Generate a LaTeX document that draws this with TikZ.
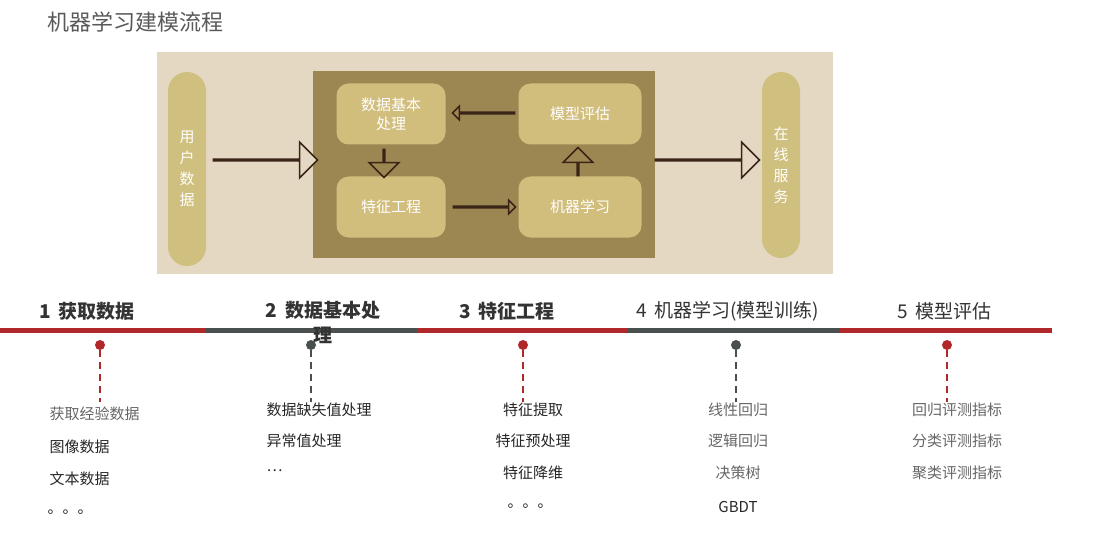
\documentclass[tikz,border=0pt]{standalone}
\usepackage{fontspec}
\setmainfont{Noto Sans CJK SC}
\usetikzlibrary{shapes.arrows}
\definecolor{paper}{HTML}{E4D8C3}
\definecolor{olive}{HTML}{9C8752}
\definecolor{pill}{HTML}{CFC07F}
\definecolor{tile}{HTML}{D1BD7C}
\definecolor{ink}{HTML}{3A2418}
\definecolor{tlred}{HTML}{B0282A}
\definecolor{tlgrey}{HTML}{4A5050}
\tikzset{
  tilebox/.style={fill=tile,rounded corners=12pt,minimum width=109pt,minimum height=61pt,
    text=white,font=\fontsize{15}{19}\selectfont,align=center},
  pillbox/.style={fill=pill,rounded corners=19pt,minimum width=38pt,text=white,
    font=\fontsize{15}{21}\selectfont,align=center},
  hollow/.style={single arrow,draw=ink,line width=1.6pt,fill=paper,inner sep=0pt,
    single arrow head extend=#1},
  hollow/.default=16pt,
  stage/.style={font=\fontsize{19}{22}\selectfont,text=black!80,anchor=west},
  item/.style={font=\fontsize{15}{18}\selectfont,text=black!85},
  greyitem/.style={item,text=black!60},
  dot/.style={circle,fill=#1,inner sep=0pt,minimum size=10pt},
}
\begin{document}
\begin{tikzpicture}[x=1pt,y=-1pt]
  \useasboundingbox (0,0) rectangle (1107,540);
  \node[anchor=west,font=\fontsize{22}{26}\selectfont,text=black!65] (title) at (44,22) {机器学习建模流程};
  % picture panel
  \fill[paper] (157,52) rectangle (833,274);
  \fill[olive] (313,71) rectangle (655,258);
  \node[pillbox,minimum height=194pt] (user) at (187,169) {用\\户\\数\\据};
  \node[pillbox,minimum height=186pt] (online) at (781,165) {在\\线\\服\\务};
  \node[tilebox] (prep) at (391,114) {数据基本\\处理};
  \node[tilebox,minimum width=123pt] (eval) at (580,114) {模型评估};
  \node[tilebox] (feat) at (391,207) {特征工程};
  \node[tilebox,minimum width=123pt] (learn) at (580,207) {机器学习};
  \node[hollow=17pt,minimum width=20pt,minimum height=104pt] (inarrow) at (265,160) {};
  \node[hollow=17pt,minimum width=20pt,minimum height=104pt] (outarrow) at (707,160) {};
  \node[hollow=6pt,fill=olive,minimum width=9pt,minimum height=62pt,shape border rotate=180] (backarrow) at (484,113) {};
  \node[hollow=6pt,fill=olive,minimum width=9pt,minimum height=62pt] (fwdarrow) at (484,207) {};
  \node[hollow=14pt,fill=olive,minimum width=14pt,minimum height=28pt,shape border rotate=270] (downarrow) at (384,163) {};
  \node[hollow=14pt,fill=olive,minimum width=14pt,minimum height=28pt,shape border rotate=90] (uparrow) at (578,162) {};
  % timeline
  \foreach \a/\b/\c in {0/205/tlred,205/417/tlgrey,417/628/tlred,628/840/tlgrey,840/1052/tlred}
    \fill[\c] (\a,328) rectangle (\b,333);
  \node[stage,font=\fontsize{19}{22}\selectfont\bfseries] (s1) at (36,311) {1\, 获取数据};
  \node[stage,font=\fontsize{19}{25}\selectfont\bfseries,align=center,anchor=north] (s2) at (323,298) {2\, 数据基本处\\理};
  \node[stage,font=\fontsize{19}{22}\selectfont\bfseries] (s3) at (456,311) {3\, 特征工程};
  \node[stage] (s4) at (633,311) {4\, 机器学习(模型训练)};
  \node[stage] (s5) at (894,311) {5\, 模型评估};
  \foreach \x/\c/\n in {100/tlred/1,311/tlgrey/2,523/tlred/3,736/tlgrey/4,947/tlred/5} {
    \node[dot=\c] (d\n) at (\x,345) {};
    \coordinate (e\n) at (\x,402);
    \draw[\c,dashed,line width=1.2pt,dash pattern=on 7pt off 5pt] (d\n) -- (e\n);
  }
  % lists
  \node[greyitem,anchor=west] (a1) at (46,414) {获取经验数据};
  \node[item,anchor=west] (a2) at (46,447) {图像数据};
  \node[item,anchor=west] (a3) at (46,479) {文本数据};
  \node[item,anchor=west] (a4) at (44,512) {。。。};
  \node[item,anchor=west] (b1) at (263,410) {数据缺失值处理};
  \node[item,anchor=west] (b2) at (263,441) {异常值处理};
  \node[item,anchor=west] (b3) at (263,471) {…};
  \node[item] (c1) at (533,410) {特征提取};
  \node[item] (c2) at (533,441) {特征预处理};
  \node[item] (c3) at (533,473) {特征降维};
  \node[item] (c4) at (530,506) {。。。};
  \node[greyitem] (f1) at (738,410) {线性回归};
  \node[greyitem] (f2) at (738,441) {逻辑回归};
  \node[greyitem] (f3) at (738,473) {决策树};
  \node[item] (f4) at (738,507) {GBDT};
  \node[greyitem] (g1) at (957,410) {回归评测指标};
  \node[greyitem] (g2) at (957,441) {分类评测指标};
  \node[greyitem] (g3) at (957,473) {聚类评测指标};
\end{tikzpicture}
\end{document}
